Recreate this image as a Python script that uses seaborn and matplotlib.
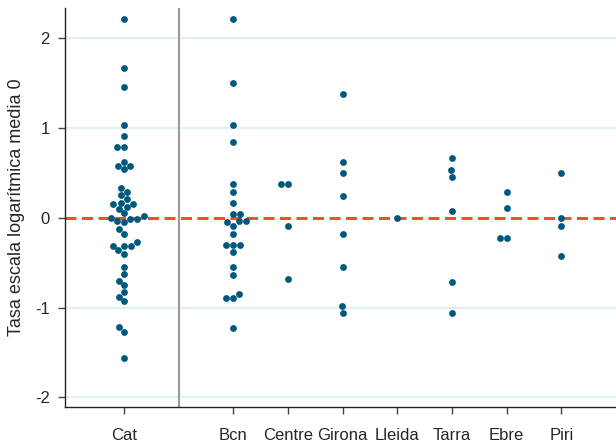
import pandas as pd
import matplotlib
matplotlib.use("Agg")
import matplotlib.pyplot as plt
import seaborn as sns

# Valores (tasa en escala logarítmica, media 0)
cat = [2.22, 1.67, 1.46, 1.04, 0.91, 0.79, 0.79,
       0.62, 0.58, 0.58, 0.54,
       0.33, 0.29, 0.25, 0.21,
       0.17, 0.15, 0.15, 0.12, 0.10,
       0.05, 0.02, 0.00, -0.01, -0.01, -0.03, -0.05,
       -0.13, -0.18,
       -0.27, -0.31, -0.31, -0.31, -0.36, -0.40,
       -0.55, -0.63, -0.70, -0.75,
       -0.83, -0.88, -0.93,
       -1.22, -1.27, -1.56]
bcn = [2.22, 1.50, 1.04, 0.84, 0.375, 0.29, 0.16, 0.04, 0.04,
       -0.03, -0.04, -0.05, -0.09, -0.175, -0.30, -0.30, -0.30,
       -0.385, -0.55, -0.64, -0.85, -0.89, -0.89, -1.23]
centre = [0.375, 0.375, -0.09, -0.68]
girona = [1.38, 0.62, 0.50, 0.245, -0.175, -0.55, -0.985, -1.06]
lleida = [0.0]
tarra = [0.67, 0.535, 0.46, 0.075, -0.72, -1.06]
ebre = [0.29, 0.115, -0.22, -0.22]
piri = [0.50, 0.0, -0.09, -0.43]

groups = ["Cat", "Bcn", "Centre", "Girona", "Lleida", "Tarra", "Ebre", "Piri"]
values = [cat, bcn, centre, girona, lleida, tarra, ebre, piri]

rows = []
for g, vals in zip(groups, values):
    for v in vals:
        rows.append({"grupo": g, "tasa": v})
df = pd.DataFrame(rows)

# hueco entre Cat y las regiones
order = ["Cat", " "] + groups[1:]

sns.set_style("white")
plt.rcParams["font.family"] = ["Liberation Sans", "DejaVu Sans"]
plt.rcParams["axes.unicode_minus"] = False

fig = plt.figure(figsize=(6.16, 4.42), dpi=100)
ax = fig.add_axes([0.1055, 0.079, 0.8945, 0.903])

for y in [-2, -1, 1, 2]:
    ax.axhline(y, color="#e1f0f0", lw=1.6, zorder=0)
ax.axvline(1, color="#9a9a9a", lw=1.5, zorder=1)
ax.axhline(0, color="#e8532b", lw=2.2, ls=(0, (3.6, 1.8)), zorder=1)

sns.swarmplot(data=df, x="grupo", y="tasa", order=order, color="#00587c",
              size=4.9, linewidth=0, ax=ax, zorder=3)

ax.set_xlim(-1.08, 9.0)
ax.set_ylim(-2.11, 2.34)
ax.set_xticks([0, 2, 3, 4, 5, 6, 7, 8])
ax.set_xticklabels(groups)
ax.set_yticks([-2, -1, 0, 1, 2])
ax.set_yticklabels(["-2", "-1", "0", "1", "2"])
ax.set_xlabel("")
ax.set_ylabel("Tasa escala logarítmica media 0", fontsize=13, labelpad=7)
ax.tick_params(axis="x", length=5, width=1, color="#444444", pad=10, labelsize=12)
ax.tick_params(axis="y", length=5, width=1, color="#444444", pad=6, labelsize=12)
ax.tick_params(bottom=True, left=True)

for s in ["top", "right"]:
    ax.spines[s].set_visible(False)
for s in ["left", "bottom"]:
    ax.spines[s].set_color("#222222")
    ax.spines[s].set_linewidth(1)

fig.savefig("out.png", dpi=100)
